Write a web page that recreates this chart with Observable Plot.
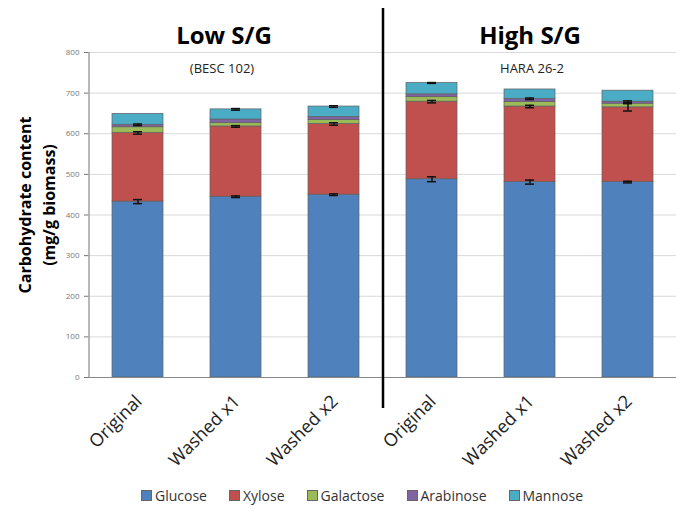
<!DOCTYPE html>
<html>
<head>
<meta charset="utf-8">
<script src="https://cdn.jsdelivr.net/npm/d3@7"></script>
<script src="https://cdn.jsdelivr.net/npm/@observablehq/plot@0.6"></script>
<style>
  html, body { margin: 0; padding: 0; background: #fff; }
  #wrap { width: 676px; height: 511px; position: relative; font-family: "Open Sans", sans-serif; }
  #legend { display: flex; justify-content: center; align-items: center; height: 31px; font-size: 14px; color: #333; padding-left: 48px; }
  .item { display: flex; align-items: center; margin: 0 11px; }
  .sw { width: 9px; height: 9px; border: 1px solid #666; margin-right: 3px; }
</style>
</head>
<body>
<div id="wrap"></div>
<script>
// ---- data ----
const samples = ["Original", "Washed x1", "Washed x2", "Original", "Washed x1", "Washed x2"];
const groups = ["Low", "Low", "Low", "High", "High", "High"];
const groupTitles = ["Low S/G", "High S/G"];
const groupSubtitles = ["(BESC 102)", "HARA 26-2"];
const sugars = ["Glucose", "Xylose", "Galactose", "Arabinose", "Mannose"];
const colors = ["#4F81BD", "#C0504D", "#9BBB59", "#8064A2", "#4BACC6"];
const glucose   = [433, 445, 450, 488, 481, 481];
const xylose    = [169, 173, 174, 191, 186, 184];
const galactose = [14, 8, 10, 11, 11, 9];
const arabinose = [6, 9, 7, 7, 8, 5];
const mannose   = [27, 25, 26, 28, 23, 27];
const glucoseErr   = [5, 2, 2, 6, 5, 2];
const xyloseErr    = [3, 2, 3, 3, 3, 9];
const galactoseErr = [0, 0, 0, 0, 0, 0];
const arabinoseErr = [2, 0, 0, 0, 2, 2];
const mannoseErr   = [0, 2, 2, 1, 0, 0];
const yTicks = [0, 100, 200, 300, 400, 500, 600, 700, 800];

// ---- build tables ----
const keys = samples.map((s, i) => groups[i] + "|" + s);
const series = [glucose, xylose, galactose, arabinose, mannose];
const errs = [glucoseErr, xyloseErr, galactoseErr, arabinoseErr, mannoseErr];
const rows = [];
const errRows = [];
keys.forEach((k, i) => {
  let cum = 0;
  sugars.forEach((s, j) => {
    rows.push({key: k, sugar: s, value: series[j][i]});
    cum += series[j][i];
    if (errs[j][i] > 0) errRows.push({key: k, top: cum, lo: cum - errs[j][i], hi: cum + errs[j][i]});
  });
});
const lowHead = [{key: keys[1], title: groupTitles[0], sub: groupSubtitles[0]}];
const highHead = [{key: keys[4], title: groupTitles[1], sub: groupSubtitles[1]}];

const chart = Plot.plot({
  width: 676,
  height: 480,
  marginLeft: 88,
  marginRight: 0,
  marginTop: 52,
  marginBottom: 103,
  style: {fontFamily: "Open Sans, sans-serif", background: "white", overflow: "visible"},
  x: {domain: keys, paddingInner: 0.48, paddingOuter: 0.24, axis: null},
  y: {domain: [0, 800], axis: null},
  color: {domain: sugars, range: colors},
  marks: [
    Plot.gridY(yTicks, {stroke: "#d9d9d9", strokeOpacity: 1}),
    Plot.axisY(yTicks, {tickSize: 4, fontSize: 8, color: "#777", label: null, tickPadding: 5}),
    Plot.barY(rows, {x: "key", y: "value", fill: "sugar", order: sugars, stroke: "#5f5f5f", strokeWidth: 0.7}),
    Plot.ruleX(errRows, {x: "key", y1: "lo", y2: "hi", stroke: "#111", strokeWidth: 1.5}),
    Plot.tickY(errRows, {x: "key", y: "lo", stroke: "#111", strokeWidth: 1.5, insetLeft: 21, insetRight: 21}),
    Plot.tickY(errRows, {x: "key", y: "hi", stroke: "#111", strokeWidth: 1.5, insetLeft: 21, insetRight: 21}),
    Plot.ruleY([0], {stroke: "#888", strokeWidth: 1.2}),
    Plot.ruleX([keys[0]], {dx: -49, stroke: "#888", strokeWidth: 1.2}),
    Plot.ruleX([keys[3]], {dx: -49, stroke: "#000", strokeWidth: 2.5, insetTop: -44, insetBottom: -31}),
    Plot.axisX({tickRotate: -45, tickSize: 0, tickPadding: 21, fontSize: 18, color: "#222",
      tickFormat: d => d.split("|")[1], label: null, dx: 1}),
    Plot.text(lowHead, {x: "key", text: "title", dx: -12, frameAnchor: "top", lineAnchor: "middle", dy: -16,
      fontSize: 24, fontWeight: "bold", fill: "#000"}),
    Plot.text(highHead, {x: "key", text: "title", dx: 0, frameAnchor: "top", lineAnchor: "middle", dy: -16,
      fontSize: 24, fontWeight: "bold", fill: "#000"}),
    Plot.text(lowHead, {x: "key", text: "sub", dx: -14, frameAnchor: "top", lineAnchor: "middle", dy: 16, fontSize: 13, fill: "#222"}),
    Plot.text(highHead, {x: "key", text: "sub", dx: 2, frameAnchor: "top", lineAnchor: "middle", dy: 16, fontSize: 13, fill: "#222"}),
    Plot.text(["Carbohydrate content\n(mg/g biomass)"], {frameAnchor: "left", textAnchor: "middle", rotate: -90, dx: -53, dy: -10,
      fontSize: 16, fontWeight: "bold", fill: "#000", lineHeight: 1.5})
  ]
});

const wrap = document.getElementById("wrap");
wrap.appendChild(chart);
const legend = document.createElement("div");
legend.id = "legend";
sugars.forEach((s, i) => {
  const it = document.createElement("div");
  it.className = "item";
  const sw = document.createElement("span");
  sw.className = "sw";
  sw.style.background = colors[i];
  const lab = document.createElement("span");
  lab.textContent = s;
  it.appendChild(sw);
  it.appendChild(lab);
  legend.appendChild(it);
});
wrap.appendChild(legend);
</script>
</body>
</html>
